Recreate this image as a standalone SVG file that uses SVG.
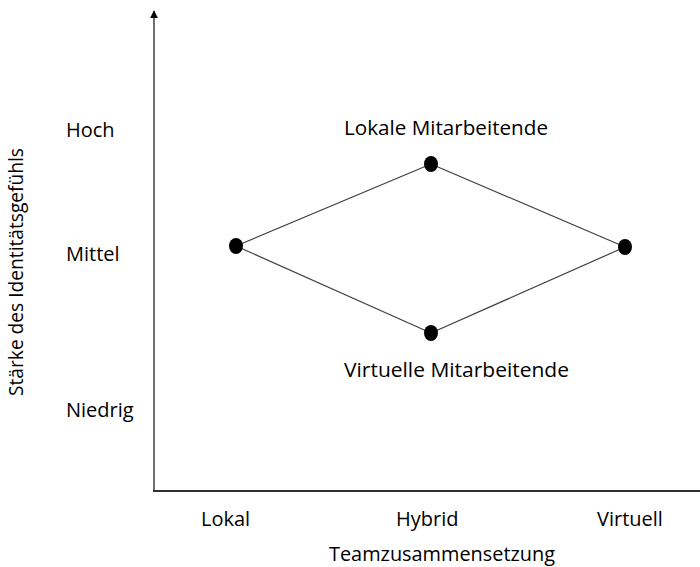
<svg xmlns="http://www.w3.org/2000/svg" width="700" height="567" viewBox="0 0 700 567">
<style>
text{font-family:"Open Sans","Noto Sans",sans-serif;font-size:20px;fill:#000}
.dot{fill:#000}
.edge{stroke:#404040;stroke-width:1.2;fill:none}
</style>
<defs>
<marker id="arr" viewBox="0 0 10 10" refX="9" refY="5" markerWidth="8" markerHeight="8" markerUnits="userSpaceOnUse" orient="auto">
<path d="M0,0 L10,5 L0,10 z" fill="#000"/>
</marker>
</defs>
<rect width="700" height="567" fill="#fff"/>
<g id="axes">
<line x1="154" y1="492" x2="154" y2="11" stroke="#707070" stroke-width="2" marker-end="url(#arr)"/>
<line x1="153" y1="491" x2="700" y2="491" stroke="#303030" stroke-width="2"/>
</g>
<g id="labels">
<text x="66" y="137">Hoch</text>
<text x="66" y="261">Mittel</text>
<text x="66" y="417">Niedrig</text>
<text x="201" y="526">Lokal</text>
<text x="396" y="526">Hybrid</text>
<text x="597" y="526">Virtuell</text>
<text x="329" y="561" textLength="226" lengthAdjust="spacingAndGlyphs">Teamzusammensetzung</text>
<text transform="translate(23,272) rotate(-90)" text-anchor="middle" textLength="248" lengthAdjust="spacingAndGlyphs">Stärke des Identitätsgefühls</text>
</g>
<g id="connectors">
<line class="edge" x1="236" y1="246" x2="431" y2="164"/>
<line class="edge" x1="431" y1="164" x2="625" y2="247"/>
<line class="edge" x1="236" y1="246" x2="431" y2="333"/>
<line class="edge" x1="431" y1="333" x2="625" y2="247"/>
</g>
<g id="node-lokal"><ellipse class="dot" cx="236" cy="246" rx="7" ry="8"/></g>
<g id="node-lokale-mitarbeitende"><ellipse class="dot" cx="431" cy="164" rx="7" ry="8"/><text x="344" y="135" textLength="204" lengthAdjust="spacingAndGlyphs">Lokale Mitarbeitende</text></g>
<g id="node-virtuell"><ellipse class="dot" cx="625" cy="247" rx="7" ry="8"/></g>
<g id="node-virtuelle-mitarbeitende"><ellipse class="dot" cx="431" cy="333" rx="7" ry="8"/><text x="344" y="377" textLength="225" lengthAdjust="spacingAndGlyphs">Virtuelle Mitarbeitende</text></g>
</svg>
